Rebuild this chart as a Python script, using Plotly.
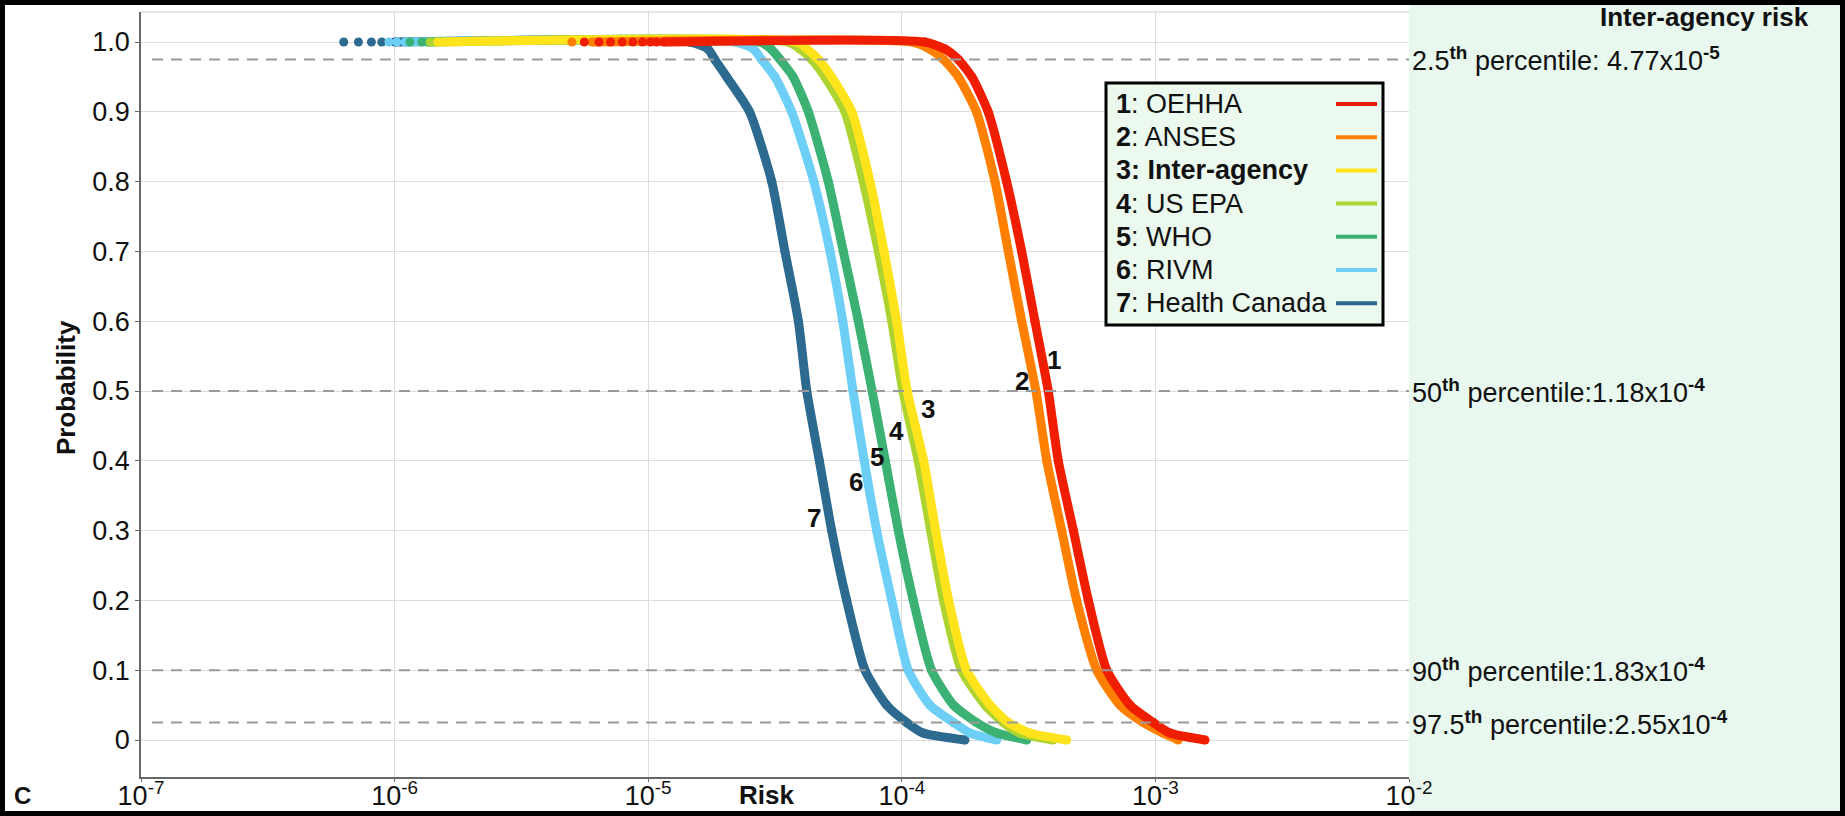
import numpy as np
import plotly.graph_objects as go

# ---------------- data ----------------
agencies = ["OEHHA", "ANSES", "Inter-agency", "US EPA", "WHO", "RIVM", "Health Canada"]
numbers = ["1", "2", "3", "4", "5", "6", "7"]
colors = ["#F01E00", "#FF8000", "#FFE41C", "#ADD330", "#3BB273", "#6DCFF6", "#2D6A8F"]

prob_levels = [1.0, 0.99, 0.975, 0.95, 0.9, 0.8, 0.7, 0.6, 0.5, 0.4, 0.3, 0.2, 0.1, 0.05, 0.025, 0.01, 0.0]

risk_oehha = [1.23e-4, 1.48e-4, 1.67e-4, 1.89e-4, 2.19e-4, 2.59e-4, 2.97e-4, 3.35e-4, 3.78e-4,
              4.14e-4, 4.75e-4, 5.44e-4, 6.43e-4, 7.94e-4, 9.81e-4, 1.14e-3, 1.57e-3]
risk_anses = [1.10e-4, 1.29e-4, 1.46e-4, 1.67e-4, 1.97e-4, 2.33e-4, 2.63e-4, 2.97e-4, 3.38e-4,
              3.73e-4, 4.27e-4, 4.89e-4, 5.87e-4, 7.25e-4, 8.96e-4, 1.07e-3, 1.23e-3]
risk_inter = [3.86e-5, 4.23e-5, 4.69e-5, 5.29e-5, 6.35e-5, 7.49e-5, 8.51e-5, 9.55e-5, 1.05e-4,
              1.22e-4, 1.36e-4, 1.53e-4, 1.80e-4, 2.23e-4, 2.63e-4, 3.20e-4, 4.47e-4]
risk_usepa = [3.56e-5, 3.97e-5, 4.41e-5, 4.98e-5, 5.97e-5, 7.05e-5, 8.08e-5, 9.13e-5, 1.01e-4,
              1.16e-4, 1.30e-4, 1.46e-4, 1.72e-4, 2.13e-4, 2.51e-4, 2.92e-4, 3.95e-4]
risk_who = [2.76e-5, 3.05e-5, 3.31e-5, 3.73e-5, 4.28e-5, 5.13e-5, 5.88e-5, 6.74e-5, 7.64e-5,
            8.61e-5, 9.69e-5, 1.11e-4, 1.31e-4, 1.60e-4, 1.97e-4, 2.37e-4, 3.11e-4]
risk_rivm = [2.20e-5, 2.60e-5, 2.80e-5, 3.16e-5, 3.68e-5, 4.50e-5, 5.21e-5, 5.85e-5, 6.42e-5,
             7.11e-5, 7.96e-5, 9.13e-5, 1.06e-4, 1.29e-4, 1.60e-4, 1.86e-4, 2.37e-4]
risk_hc = [1.46e-5, 1.72e-5, 1.83e-5, 2.04e-5, 2.51e-5, 3.07e-5, 3.46e-5, 3.91e-5, 4.22e-5,
           4.73e-5, 5.29e-5, 6.06e-5, 7.16e-5, 8.72e-5, 1.046e-4, 1.213e-4, 1.775e-4]

# lowest risk of the dense part of each curve at probability 1.0
plateau_start = [1.15e-5, 6.0e-6, 1.55e-6, 1.45e-6, 1.35e-6, 1.1e-6, 1.0e-6]

# sparse samples at probability 1.0 (isolated dots, top-left)
dots_oehha = [5.6e-6, 6.4e-6, 7.1e-6, 7.9e-6, 8.7e-6, 9.5e-6, 1.02e-5, 1.08e-5]
dots_anses = [5.0e-6]
dots_inter = [1.48e-6]
dots_usepa = [1.38e-6]
dots_who = [1.15e-6, 1.28e-6]
dots_rivm = [9.5e-7, 1.02e-6]
dots_hc = [6.3e-7, 7.2e-7, 8.1e-7, 8.9e-7]

# curve number labels
label_risk = [3.98e-4, 2.97e-4, 1.27e-4, 9.55e-5, 7.96e-5, 6.60e-5, 4.50e-5]
label_prob = [0.544, 0.515, 0.474, 0.442, 0.406, 0.370, 0.318]

# inter-agency percentiles
pct_names = ["2.5", "50", "90", "97.5"]
pct_prob = [0.975, 0.5, 0.1, 0.025]
pct_mant = ["4.77", "1.18", "1.83", "2.55"]
pct_exp = ["-5", "-4", "-4", "-4"]
pct_sep = [" ", "", "", ""]

x_tickvals = [1e-7, 1e-6, 1e-5, 1e-4, 1e-3, 1e-2]
x_ticktext = ["10<sup>-7</sup>", "10<sup>-6</sup>", "10<sup>-5</sup>", "10<sup>-4</sup>",
              "10<sup>-3</sup>", "10<sup>-2</sup>"]
y_tickvals = [0, 0.1, 0.2, 0.3, 0.4, 0.5, 0.6, 0.7, 0.8, 0.9, 1.0]
y_ticktext = ["0", "0.1", "0.2", "0.3", "0.4", "0.5", "0.6", "0.7", "0.8", "0.9", "1.0"]

risks = [risk_oehha, risk_anses, risk_inter, risk_usepa, risk_who, risk_rivm, risk_hc]
dots = [dots_oehha, dots_anses, dots_inter, dots_usepa, dots_who, dots_rivm, dots_hc]

# ---------------- layout geometry ----------------
W, H = 1845, 816
ML, MR, MT, MB = 141, 436, 12, 39
PW, PH = W - ML - MR, H - MT - MB


def px(x):
    return (x - ML) / PW


def py(y):
    return (H - MB - y) / PH


FONT = "Liberation Sans, Arial, sans-serif"
TXT = "#111111"

fig = go.Figure()

# draw from 7 (bottom) to 1 (top)
for i in reversed(range(len(agencies))):
    xs = [plateau_start[i]] + list(risks[i])
    ys = [1.0] + list(prob_levels)
    fig.add_trace(go.Scatter(
        x=xs, y=ys, mode="lines+markers",
        line=dict(color=colors[i], width=9, shape="spline", smoothing=0.6),
        marker=dict(color=colors[i], size=9),
        showlegend=False, hoverinfo="skip"))
    fig.add_trace(go.Scatter(
        x=dots[i], y=[1.0] * len(dots[i]), mode="markers",
        marker=dict(color=colors[i], size=9),
        showlegend=False, hoverinfo="skip"))

shapes = []
annotations = []

# right-hand green panel
shapes.append(dict(type="rect", xref="paper", yref="paper",
                   x0=1.0, x1=px(1841), y0=py(812), y1=py(3),
                   fillcolor="#E8F8EE", line=dict(width=0), layer="below"))
# top light border of plot area
shapes.append(dict(type="line", xref="paper", yref="paper", x0=0, x1=1, y0=1, y1=1,
                   line=dict(color="#DDDDDD", width=1.5)))

# dashed percentile lines
for p in pct_prob:
    shapes.append(dict(type="line", xref="paper", yref="y", x0=px(152), x1=1.0, y0=p, y1=p,
                       line=dict(color="#9A9A9A", width=2, dash="11px,8px")))

# percentile labels
for name, p, m, e, s in zip(pct_names, pct_prob, pct_mant, pct_exp, pct_sep):
    annotations.append(dict(
        xref="paper", yref="y", x=px(1410), y=p, xanchor="left", yanchor="middle",
        text=f"{name}<sup><b>th</b></sup> percentile:{s}{m}x10<sup><b>{e}</b></sup>",
        showarrow=False, font=dict(family=FONT, size=27, color=TXT)))

annotations.append(dict(xref="paper", yref="paper", x=px(1704), y=py(17),
                        xanchor="center", yanchor="middle", text="<b>Inter-agency risk</b>",
                        showarrow=False, font=dict(family=FONT, size=26, color=TXT)))

# curve number labels
for n, r, p in zip(numbers, label_risk, label_prob):
    annotations.append(dict(xref="x", yref="y", x=np.log10(r), y=p, text=f"<b>{n}</b>",
                            showarrow=False, font=dict(family=FONT, size=26, color=TXT)))

# manual legend (swatches on the right)
shapes.append(dict(type="rect", xref="paper", yref="paper",
                   x0=px(1106), x1=px(1383), y0=py(325), y1=py(83),
                   fillcolor="#EBF9EF", line=dict(color="#000000", width=3)))
for i, (n, a) in enumerate(zip(numbers, agencies)):
    yc = 104 + 33.2 * i
    if a == "Inter-agency":
        txt = f"<b>{n}: {a}</b>"
    else:
        txt = f"<b>{n}</b>: {a}"
    annotations.append(dict(xref="paper", yref="paper", x=px(1114), y=py(yc),
                            xanchor="left", yanchor="middle", text=txt, showarrow=False,
                            font=dict(family=FONT, size=27, color=TXT)))
    shapes.append(dict(type="line", xref="paper", yref="paper",
                       x0=px(1336), x1=px(1377), y0=py(yc), y1=py(yc),
                       line=dict(color=colors[i], width=4)))

# axis titles and panel letter
annotations.append(dict(xref="paper", yref="paper", x=px(766), y=py(795),
                        xanchor="center", yanchor="middle", text="<b>Risk</b>",
                        showarrow=False, font=dict(family=FONT, size=26, color=TXT)))
annotations.append(dict(xref="paper", yref="paper", x=px(66), y=py(388),
                        xanchor="center", yanchor="middle", text="<b>Probability</b>",
                        textangle=-90, showarrow=False,
                        font=dict(family=FONT, size=26, color=TXT)))
annotations.append(dict(xref="paper", yref="paper", x=px(22), y=py(796),
                        xanchor="center", yanchor="middle", text="<b>C</b>",
                        showarrow=False, font=dict(family=FONT, size=24, color=TXT)))

# black frame around the whole picture
shapes.append(dict(type="rect", xref="paper", yref="paper",
                   x0=px(0), x1=px(W), y0=py(H), y1=py(0),
                   line=dict(color="#000000", width=10), fillcolor="rgba(0,0,0,0)"))

fig.update_layout(
    width=W, height=H,
    margin=dict(l=ML, r=MR, t=MT, b=MB, autoexpand=False),
    paper_bgcolor="#FFFFFF", plot_bgcolor="#FFFFFF",
    showlegend=False,
    shapes=shapes, annotations=annotations,
    font=dict(family=FONT, color=TXT),
)
fig.update_xaxes(type="log", range=[-7, -2], tickvals=x_tickvals, ticktext=x_ticktext,
                 showgrid=True, gridcolor="#DDDDDD", gridwidth=1,
                 showline=True, linecolor="#666666", linewidth=1.5,
                 ticks="outside", ticklen=3, tickcolor="#666666", ticklabelstandoff=-9,
                 tickfont=dict(family=FONT, size=27, color=TXT), zeroline=False)
fig.update_yaxes(range=[-0.053, 1.043], tickvals=y_tickvals, ticktext=y_ticktext,
                 showgrid=True, gridcolor="#DDDDDD", gridwidth=1,
                 showline=True, linecolor="#666666", linewidth=1.5,
                 ticks="outside", ticklen=4, tickcolor="#666666",
                 tickfont=dict(family=FONT, size=27, color=TXT), zeroline=False)

fig.write_html("out.html", config={"displayModeBar": False},
               post_script="document.body.style.margin='0px';")
